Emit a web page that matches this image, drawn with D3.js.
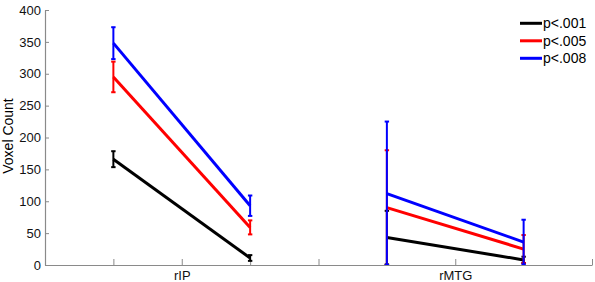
<!DOCTYPE html>
<html>
<head>
<meta charset="utf-8">
<script src="https://cdn.jsdelivr.net/npm/d3@7"></script>
<style>
  body { margin: 0; background: #fff; }
  svg { display: block; font-family: "Liberation Sans", Arial, sans-serif; }
</style>
</head>
<body>
<svg width="595" height="282"></svg>
<script>
// data
const xPositions = [1, 3, 5, 7];            // two points per region
const tickLabels = ['', '', 'rIP', '', '', '', 'rMTG', '', ''];  // ticks 0..8
const seriesNames = ['p<.001', 'p<.005', 'p<.008'];
const seriesColors = ['#000000', '#ff0000', '#0000ff'];
const black = [166, 11, 43, 8];
const blackErr = [12.5, 4.5, 42, 5];
const red = [295, 59, 90, 25];
const redErr = [24, 11, 90, 22];
const blue = [348, 93, 112, 36];
const blueErr = [25, 16, 113, 35];

const series = [
  {name: seriesNames[0], color: seriesColors[0], vals: black, err: blackErr},
  {name: seriesNames[1], color: seriesColors[1], vals: red, err: redErr},
  {name: seriesNames[2], color: seriesColors[2], vals: blue, err: blueErr}
];

const svg = d3.select('svg');
const padL = 45, padR = 592, padT = 10, padB = 265;

const xScale = d3.scaleLinear().domain([0, 8]).range([padL, padR]);
const yScale = d3.scaleLinear().domain([0, 400]).range([padB, padT]);

svg.append('clipPath').attr('id', 'plotclip')
  .append('rect')
  .attr('x', padL - 5).attr('y', padT - 5)
  .attr('width', padR - padL + 10).attr('height', padB - padT + 5);

// axes
const gX = svg.append('g')
  .attr('transform', `translate(0,${padB})`)
  .call(d3.axisBottom(xScale).tickValues(d3.range(0, 9))
    .tickSizeInner(-6).tickSizeOuter(0).tickPadding(6)
    .tickFormat((d, i) => tickLabels[i]));

const gY = svg.append('g')
  .attr('transform', `translate(${padL},0)`)
  .call(d3.axisLeft(yScale).tickValues(d3.range(0, 401, 50))
    .tickSizeInner(-4).tickSizeOuter(0).tickPadding(4));

[gX, gY].forEach(g => {
  g.select('.domain').attr('stroke', '#8a8a8a').attr('stroke-width', 1.2);
  g.selectAll('.tick line').attr('stroke', '#8a8a8a');
  g.selectAll('.tick text').attr('font-size', 13).attr('fill', '#111')
    .attr('font-family', '"Liberation Sans", Arial, sans-serif');
});

svg.append('text')
  .attr('transform', `translate(13,136) rotate(-90)`)
  .attr('text-anchor', 'middle')
  .attr('font-size', 14)
  .text('Voxel Count');

const plot = svg.append('g').attr('clip-path', 'url(#plotclip)');

const line = d3.line().x(d => xScale(d.x)).y(d => yScale(d.v));

series.forEach(s => {
  const pts = xPositions.map((x, i) => ({x: x, v: s.vals[i], e: s.err[i]}));
  const g = plot.append('g');
  // one segment per region
  [pts.slice(0, 2), pts.slice(2, 4)].forEach(seg => {
    g.append('path')
      .attr('d', line(seg))
      .attr('fill', 'none')
      .attr('stroke', s.color)
      .attr('stroke-width', 3);
  });
  pts.forEach(p => {
    const y1 = yScale(Math.max(p.v - p.e, 0));
    const y2 = yScale(p.v + p.e);
    const cx = xScale(p.x);
    g.append('line')
      .attr('x1', cx).attr('x2', cx).attr('y1', y1).attr('y2', y2)
      .attr('stroke', s.color).attr('stroke-width', 2);
    [y1, y2].forEach(cy => {
      g.append('line')
        .attr('x1', cx - 2.2).attr('x2', cx + 2.2).attr('y1', cy).attr('y2', cy)
        .attr('stroke', s.color).attr('stroke-width', 2);
    });
  });
});

// legend
const legend = svg.append('g');
series.forEach((s, i) => {
  const ly = 23.3 + i * 17.5;
  legend.append('line')
    .attr('x1', 520).attr('x2', 542).attr('y1', ly).attr('y2', ly)
    .attr('stroke', s.color).attr('stroke-width', 3);
  legend.append('text')
    .attr('x', 543).attr('y', ly + 5)
    .attr('font-size', 14)
    .text(s.name);
});
</script>
</body>
</html>
